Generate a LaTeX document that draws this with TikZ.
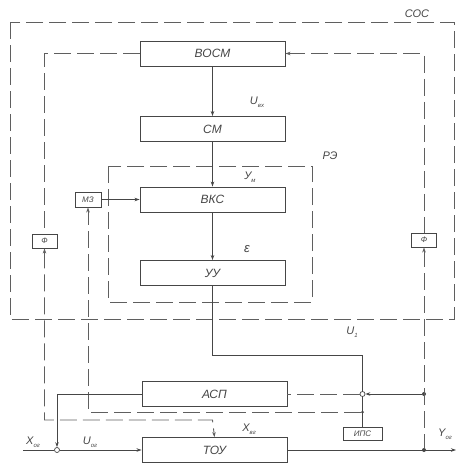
\documentclass[tikz,border=0pt]{standalone}
\usepackage{fontspec}
\setmainfont{Liberation Sans}
\usetikzlibrary{arrows.meta}
\definecolor{ln}{RGB}{70,70,70}
\definecolor{dl}{RGB}{95,95,95}
\newcommand{\lsub}[2]{#1\raisebox{-0.45ex}{\fontsize{6}{6}\selectfont #2}}
\tikzset{
  blk/.style={draw=ln, line width=0.9pt, minimum width=145pt, minimum height=25pt, inner sep=0pt, font=\fontsize{12}{13}\selectfont\itshape, text=ln},
  sbox/.style={draw=ln, line width=0.9pt, inner sep=0pt, font=\fontsize{8}{9}\selectfont\itshape, text=ln},
  dsh/.style={draw=dl, line width=0.9pt, dash pattern=on 17pt off 6pt},
  sol/.style={draw=ln, line width=0.8pt},
  arr/.style={-{Stealth[length=5pt,width=3.5pt]}},
  lbl/.style={text=ln, font=\fontsize{11}{12}\selectfont\itshape, inner sep=0pt},
  dotn/.style={circle, fill=ln, inner sep=0pt, minimum size=4pt},
  circn/.style={circle, draw=ln, fill=white, line width=0.7pt, inner sep=0pt, minimum size=5pt}
}
\begin{document}
\begin{tikzpicture}[x=1pt,y=-1pt]
\useasboundingbox (0,0) rectangle (464,464);
% dashed frames
\draw[dsh] (10,22) rectangle (454,319);
\draw[dsh] (108,166) rectangle (312,302);
% blocks
\node[blk] (vosm) at (212.5,53.5) {ВОСМ};
\node[blk] (sm) at (212.5,129) {СМ};
\node[blk] (vks) at (212.5,199.5) {ВКС};
\node[blk] (uu) at (212.5,273) {УУ};
\node[blk] (asp) at (214.5,394) {АСП};
\node[blk] (tou) at (214.5,450) {ТОУ};
\node[sbox, minimum width=26pt, minimum height=15pt] (mz) at (88,199.5) {МЗ};
\node[sbox, minimum width=25pt, minimum height=14pt] (fl) at (44.5,241) {Ф};
\node[sbox, minimum width=25pt, minimum height=14pt] (fr) at (424,240) {Ф};
\node[sbox, minimum width=39pt, minimum height=13pt] (ips) at (362.5,433.5) {ИПС};
% junctions
\node[circn] (cj) at (362.5,394) {};
\node[circn] (ci) at (57,450) {};
\node[dotn] (dr1) at (424,394) {};
\node[dotn] (dr2) at (424,450) {};
\node[dotn, minimum size=3pt] (dj2) at (362.5,412) {};
\coordinate (inl) at (23,450);
\coordinate (outr) at (456,450);
% main chain
\draw[sol,arr] (vosm) -- (sm);
\draw[sol,arr] (sm) -- (vks);
\draw[sol,arr] (vks) -- (uu);
\draw[sol,arr] (mz) -- (vks);
\draw[sol] (uu.south) |- (362.5,355) -- (cj);
\draw[sol] (cj) -- (ips.north);
% left feedback
\draw[dsh] (vosm.west) -| (fl.north);
\draw[dsh,{Stealth[length=5pt,width=3.5pt]}-{Stealth[length=5pt,width=3.5pt]}] (fl.south) |- (212.5,420) -- (tou.north);
% right feedback
\draw[dsh,{Stealth[length=5pt,width=3.5pt]}-] (vosm.east) -| (fr.north);
\draw[dsh,{Stealth[length=5pt,width=3.5pt]}-] (fr.south) -- (dr2);
% MZ line
\draw[dsh,arr] (dj2) -| (mz.south);
% ASP loop
\draw[sol,arr] (dr1) -- (cj);
\draw[dsh] (cj) -- (asp.east);
\draw[sol,arr] (asp.west) -| (ci);
% input and output
\draw[sol] (inl) -- (ci);
\draw[sol,arr] (ci) -- (tou.west);
\draw[sol,arr] (tou.east) -- (outr);
% labels
\node[lbl] (lsos) at (417,14) {СОС};
\node[lbl] (lre) at (330,156) {РЭ};
\node[lbl] (luvx) at (257,102) {\lsub{U}{вх}};
\node[lbl] (lym) at (250,177) {\lsub{У}{м}};
\node[lbl, font=\fontsize{13}{13}\selectfont\itshape] (leps) at (247,249) {ε};
\node[lbl] (lu1) at (352,332) {\lsub{U}{1}};
\node[lbl] (lxvg) at (249,429) {\lsub{X}{вг}};
\node[lbl] (lyog) at (445,434) {\lsub{Y}{ог}};
\node[lbl] (lxog) at (33,442) {\lsub{X}{ог}};
\node[lbl] (luog) at (90,442) {\lsub{U}{ог}};
\end{tikzpicture}
\end{document}
